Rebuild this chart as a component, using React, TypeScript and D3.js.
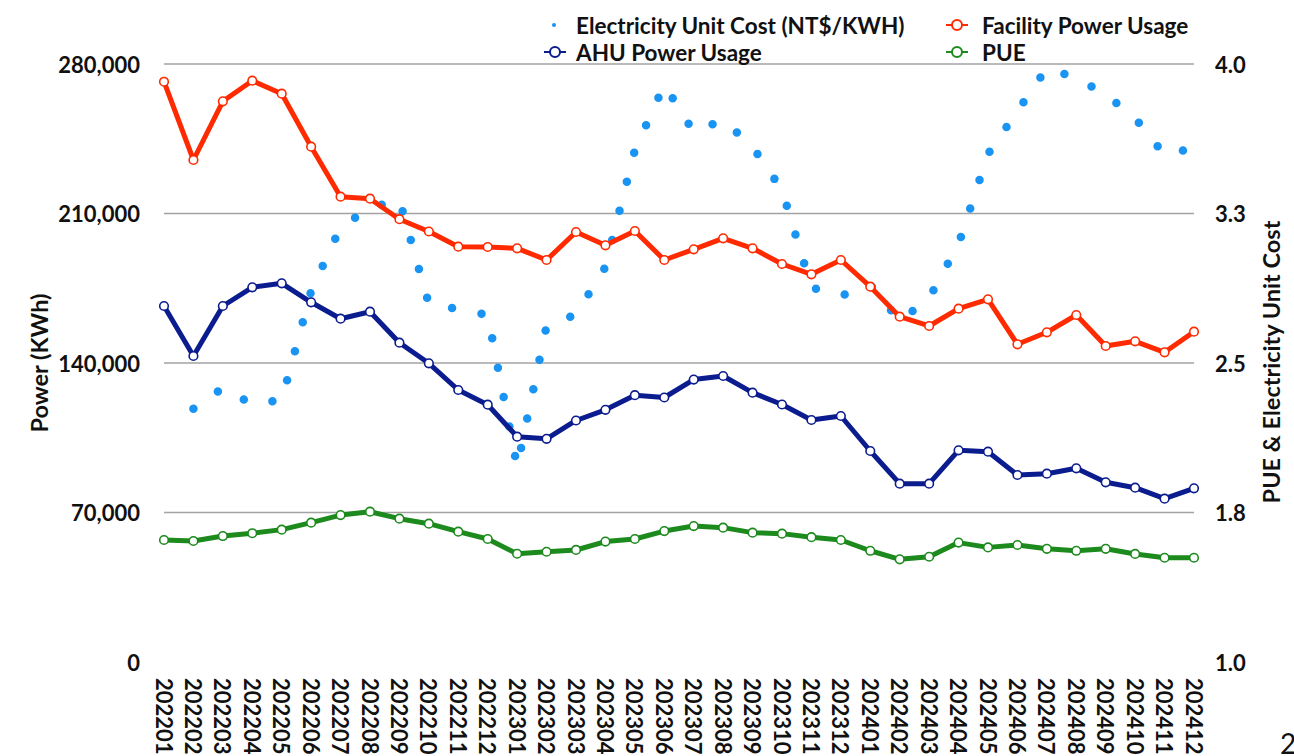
import React from 'react'
import * as d3 from 'd3'

// monthly data, 202201 - 202412
const months = [
  '202201', '202202', '202203', '202204', '202205', '202206', '202207', '202208', '202209', '202210', '202211', '202212',
  '202301', '202302', '202303', '202304', '202305', '202306', '202307', '202308', '202309', '202310', '202311', '202312',
  '202401', '202402', '202403', '202404', '202405', '202406', '202407', '202408', '202409', '202410', '202411', '202412',
]

// NT$/KWH (no value for 202201)
const unitCost: (number | null)[] = [
  null, 2.27, 2.375, 2.294, 2.314, 2.861, 3.182, 3.278, 3.318, 2.796, 2.771, 2.741,
  1.98, 2.686, 2.743, 2.982, 3.569, 3.895, 3.659, 3.719, 3.584, 3.368, 2.879, 2.836,
  2.891, 2.711, 2.826, 3.097, 3.549, 3.764, 3.98, 3.93, 3.847, 3.728, 3.544, 3.579,
]

const facilityPower = [
  271700, 235050, 262530, 272180, 266100, 241280, 217870, 216930, 207330, 201570, 194450, 194310,
  193700, 188230, 201340, 195110, 201810, 188230, 193240, 198390, 193700, 186360, 181530, 188230,
  175730, 161680, 157330, 165430, 169830, 148760, 154380, 162480, 147960, 150160, 145010, 154650,
]

const ahuPower = [
  166690, 143280, 166690, 175450, 177320, 168420, 160740, 164020, 149510, 139860, 127360, 120480,
  105490, 104510, 113080, 118090, 124930, 123850, 132230, 133910, 126100, 120570, 113310, 115190,
  98800, 83490, 83490, 99120, 98470, 87560, 88170, 90700, 84140, 81610, 76460, 81330,
]

const pue = [
  1.612, 1.607, 1.632, 1.646, 1.664, 1.699, 1.737, 1.754, 1.719, 1.694, 1.654, 1.617,
  1.543, 1.553, 1.562, 1.604, 1.617, 1.657, 1.682, 1.674, 1.649, 1.644, 1.626, 1.612,
  1.558, 1.515, 1.528, 1.599, 1.575, 1.587, 1.568, 1.558, 1.568, 1.542, 1.523, 1.523,
]

const leftTicks = [0, 70000, 140000, 210000, 280000]
const rightTicks = [1, 1.75, 2.5, 3.25, 4]

const RED = '#ff2a00'
const NAVY = '#0b1c8f'
const GREEN = '#1c8a1c'
const SKY = '#1a94f2'
const FONT = 'Lato, "Open Sans", sans-serif'

const W = 1294
const H = 756

const App = () => {
  const x = d3.scalePoint<string>().domain(months).range([164, 1194])
  const yL = d3.scaleLinear().domain([0, 280000]).range([662, 64])
  const yR = d3.scaleLinear().domain([1, 4]).range([662, 64])

  const lineL = d3.line<number>().x((d, i) => x(months[i]) as number).y((d) => yL(d))
  const lineR = d3
    .line<number | null>()
    .defined((d) => d != null)
    .x((d, i) => x(months[i]) as number)
    .y((d) => yR(d as number))

  const series = [
    { name: 'Facility Power Usage', values: facilityPower, color: RED, path: lineL(facilityPower), scale: yL },
    { name: 'AHU Power Usage', values: ahuPower, color: NAVY, path: lineL(ahuPower), scale: yL },
    { name: 'PUE', values: pue, color: GREEN, path: lineR(pue), scale: yR },
  ]

  const legendLine = (cx: number, cy: number, color: string) => (
    <g>
      <line x1={cx - 11} x2={cx + 11} y1={cy} y2={cy} stroke={color} strokeWidth={2} />
      <circle cx={cx} cy={cy} r={5} fill="#fff" stroke={color} strokeWidth={2} />
    </g>
  )

  const legendFont = 22.5

  return (
    <svg width={W} height={H} style={{ position: 'absolute', left: 0, top: 0, background: '#fff' }} fontFamily={FONT}>
      <rect width={W} height={H} fill="#fff" />

      {/* gridlines */}
      {leftTicks.filter((t) => t > 0).map((t) => (
        <line key={t} x1={164} x2={1194} y1={yL(t)} y2={yL(t)} stroke="#a3a3a3" strokeWidth={1.5} />
      ))}

      {/* left axis labels */}
      {leftTicks.map((t) => (
        <text key={t} x={140} y={yL(t)} textAnchor="end" dominantBaseline="central" fontSize={22} fontWeight={700} fill="#111">
          {d3.format(',')(t)}
        </text>
      ))}

      {/* right axis labels */}
      {rightTicks.map((t) => (
        <text key={t} x={1215} y={yR(t)} textAnchor="start" dominantBaseline="central" fontSize={22} fontWeight={700} fill="#111">
          {d3.format('.1f')(t)}
        </text>
      ))}

      {/* x axis labels, rotated */}
      {months.map((m) => (
        <text
          key={m}
          transform={`translate(${x(m)},678) rotate(90)`}
          textAnchor="start"
          dominantBaseline="central"
          fontSize={22}
          fontWeight={700}
          fill="#111"
        >
          {m}
        </text>
      ))}

      {/* axis titles */}
      <text transform="translate(39,363) rotate(-90)" textAnchor="middle" dominantBaseline="central" fontSize={23.5} fontWeight={700} fill="#111">
        Power (KWh)
      </text>
      <text transform="translate(1271,362) rotate(-90)" textAnchor="middle" dominantBaseline="central" fontSize={23.5} fontWeight={700} fill="#111">
        PUE &amp; Electricity Unit Cost
      </text>

      {/* electricity unit cost: round dotted line */}
      <path
        d={lineR(unitCost) || ''}
        fill="none"
        stroke={SKY}
        strokeWidth={8.5}
        strokeLinecap="round"
        strokeDasharray="0 30"
      />

      {/* power & PUE lines with hollow markers */}
      {series.map((s) => (
        <g key={s.name}>
          <path d={s.path || ''} fill="none" stroke={s.color} strokeWidth={5} strokeLinejoin="round" />
          {s.values.map((v, i) => (
            <circle key={i} cx={x(months[i])} cy={s.scale(v)} r={4.3} fill="#fff" stroke={s.color} strokeWidth={1.6} />
          ))}
        </g>
      ))}

      {/* legend */}
      <circle cx={554} cy={25} r={2} fill={SKY} />
      <text x={576} y={25} dominantBaseline="central" fontSize={legendFont} fontWeight={700} fill="#111">
        Electricity Unit Cost (NT$/KWH)
      </text>
      {legendLine(957, 25, RED)}
      <text x={982} y={25} dominantBaseline="central" fontSize={legendFont} fontWeight={700} fill="#111">
        Facility Power Usage
      </text>
      {legendLine(555, 52, NAVY)}
      <text x={576} y={52} dominantBaseline="central" fontSize={legendFont} fontWeight={700} fill="#111">
        AHU Power Usage
      </text>
      {legendLine(957, 52, GREEN)}
      <text x={982} y={52} dominantBaseline="central" fontSize={legendFont} fontWeight={700} fill="#111">
        PUE
      </text>

      {/* cut-off page number at the corner */}
      <text x={1280} y={754} fontSize={28} fill="#111">
        2
      </text>
    </svg>
  )
}

export default App
